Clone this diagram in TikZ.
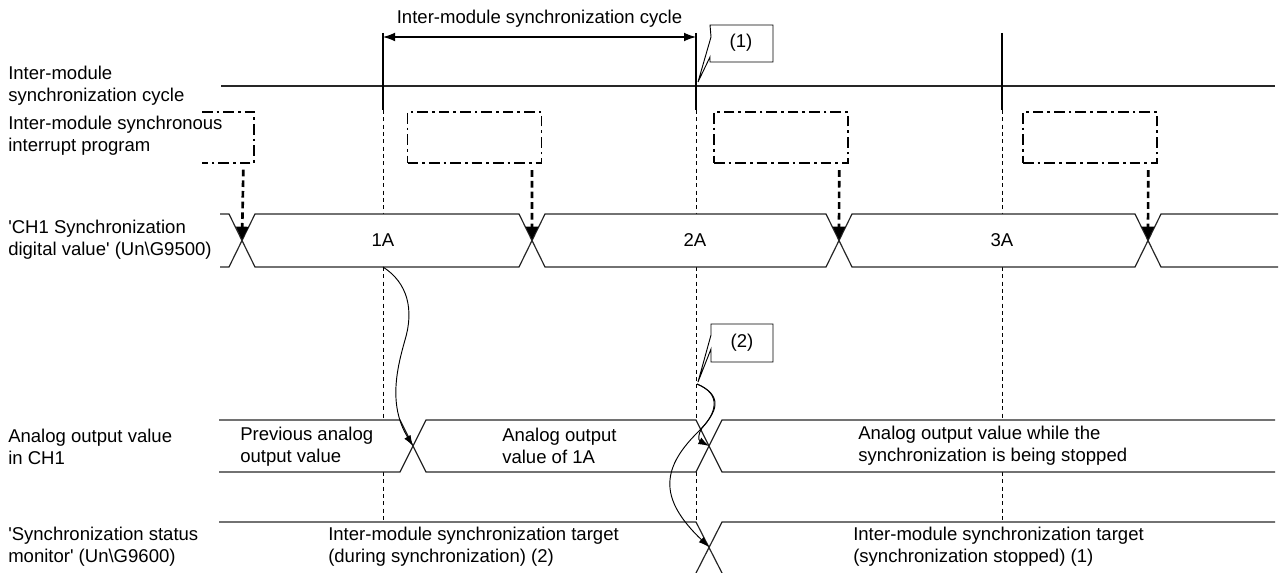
\documentclass[tikz,border=0pt]{standalone}
\usepackage{fontspec}
\setmainfont{Liberation Sans}
\usetikzlibrary{arrows.meta}

\begin{document}
\begin{tikzpicture}[x=0.75pt,y=-0.75pt,
lbl/.style={align=left,anchor=west,inner sep=0pt,font=\fontsize{13.9}{16.5}\selectfont},
val/.style={inner sep=0pt,font=\fontsize{13.9}{16.5}\selectfont},
bus/.style={line width=0.9pt,draw=black!85},
guide/.style={line width=0.6pt,dash pattern=on 3pt off 2.5pt},
prog/.style={draw,line width=0.8pt,dash pattern=on 8pt off 3pt on 2pt off 3pt,minimum width=100.5pt,minimum height=38.25pt,inner sep=0pt},
trig/.style={line width=2pt,dash pattern=on 5pt off 3pt,-{Triangle[length=10pt,width=9pt]}},
flow/.style={line width=0.7pt,-{Latex[length=8pt,width=5.5pt]}},
dim/.style={line width=0.8pt,{Latex[length=9pt,width=6.5pt]}-{Latex[length=9pt,width=6.5pt]}},
callout/.style={line width=0.7pt,fill=white}]
\useasboundingbox (0,0) rectangle (1280,573);
% signal names
\node[lbl] (lcycle) at (8,86) {Inter-module\\synchronization cycle};
\node[lbl] (lprog) at (8,136) {Inter-module synchronous\\interrupt program};
\node[lbl] (ldigital) at (8,240) {\textquotesingle CH1 Synchronization\\digital value\textquotesingle{} (Un\textbackslash G9500)};
\node[lbl] (lanalog) at (8,447) {Analog output value\\in CH1};
\node[lbl] (lstatus) at (8,547) {\textquotesingle Synchronization status\\monitor\textquotesingle{} (Un\textbackslash G9600)};
% cycle
\draw[bus] (221,86) -- (1275,86);
\draw[line width=0.8pt] (383,33) -- (383,110) (696,33) -- (696,110) (1002,33) -- (1002,110);
\coordinate (t1) at (383,37);
\coordinate (t2) at (696,37);
\draw[dim] (t1) -- node[val,above=7pt] (lperiod) {Inter-module synchronization cycle} (t2);
\draw[callout] (710,25) -- (773,25) -- (773,62) -- (710,62) -- (710,57) -- (698,82) -- (711,37) -- cycle;
\node[val] (c1) at (741,43) {(1)};
% guides
\draw[guide] (383,110) -- (383,214) (383,267) -- (383,420) (383,472) -- (383,520);
\draw[guide] (696,110) -- (696,214) (696,267) -- (696,420) (696,472) -- (696,520);
\draw[guide] (1002,110) -- (1002,214) (1002,267) -- (1002,420) (1002,472) -- (1002,520);
% interrupt program
\draw[prog] (202,112) -- (254,112) -- (254,163) -- (202,163);
\coordinate (ip0) at (254,163);
\node[prog] (ip1) at (474.5,137.5) {};
\node[prog] (ip2) at (781,137.5) {};
\node[prog] (ip3) at (1090,137.5) {};
% digital value
\draw[bus] (220,214) -- (229,214) -- (255,267) -- (519,267) -- (545,214) -- (826,214) -- (852,267) -- (1135,267) -- (1161,214) -- (1278,214);
\draw[bus] (220,267) -- (229,267) -- (255,214) -- (519,214) -- (545,267) -- (826,267) -- (852,214) -- (1135,214) -- (1161,267) -- (1278,267);
\coordinate (d1) at (242,240);
\coordinate (d2) at (532,240);
\coordinate (d3) at (839,240);
\coordinate (d4) at (1148,240);
\draw[trig] ([xshift=-8pt,yshift=-5pt]ip0) -- (d1);
\draw[trig] ([xshift=-7.5pt,yshift=-5pt]ip1.south east) -- (d2);
\draw[trig] ([xshift=-7pt,yshift=-5pt]ip2.south east) -- (d3);
\draw[trig] ([xshift=-7pt,yshift=-5pt]ip3.south east) -- (d4);
\node[val] (v1) at (383,240) {1A};
\node[val] (v2) at (695,240) {2A};
\node[val] (v3) at (1002,240) {3A};
% analog output
\draw[bus] (219,420) -- (400,420) -- (426,472) -- (696,472) -- (722,420) -- (1275,420);
\draw[bus] (219,472) -- (400,472) -- (426,420) -- (696,420) -- (722,472) -- (1275,472);
\coordinate (a1) at (413,446);
\coordinate (a2) at (709,446);
\node[lbl] (prev) at (240,447) {Previous analog\\output value};
\node[lbl] (out1a) at (502,446) {Analog output\\value of 1A};
\node[lbl] (outstop) at (858,446) {Analog output value while the\\synchronization is being stopped};
% status monitor
\draw[bus] (219,522) -- (696,522) -- (722,573);
\draw[bus] (696,573) -- (722,522) -- (1275,522);
\coordinate (m1) at (709,547);
\node[lbl] (during) at (328,547) {Inter-module synchronization target\\(during synchronization) (2)};
\node[lbl] (stopped) at (853,547) {Inter-module synchronization target\\(synchronization stopped) (1)};
% transfers
\coordinate (s1) at (383,267);
\draw[flow] (s1) .. controls (408,283) and (414,310) .. (405,340) .. controls (397,368) and (388,405) .. (a1);
\draw[callout] (711,324) -- (773,324) -- (773,362) -- (711,362) -- (711,349) -- (698,382) -- (711,335) -- cycle;
\node[val] (c2) at (742,343) {(2)};
\coordinate (p2) at (697,384);
\draw[flow] (p2) .. controls (722,394) and (716,413) .. (702,428) .. controls (698,434) and (698,440) .. (a2);
\draw[flow] (p2) .. controls (724,396) and (718,412) .. (697,433) .. controls (660,470) and (660,500) .. (m1);
\end{tikzpicture}
\end{document}
